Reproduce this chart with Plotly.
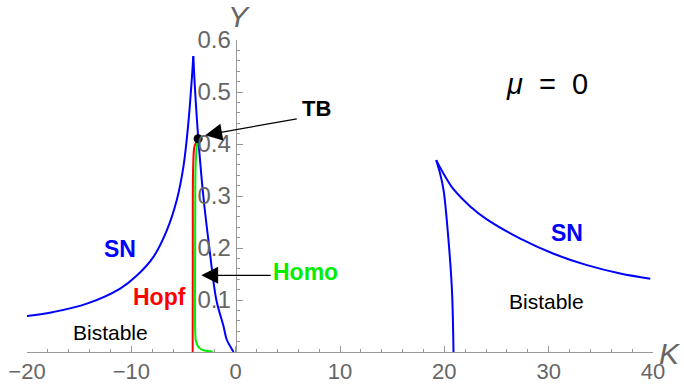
import plotly.graph_objects as go

# ---- data ----
sn_left_up_K = [-20, -17.45, -14.26, -11.07, -9.47, -7.88, -6.6, -5.65, -5.01, -4.54, -4.21, -4.06]
sn_left_up_Y = [0.069, 0.077, 0.093, 0.122, 0.147, 0.183, 0.234, 0.292, 0.356, 0.439, 0.523, 0.569]

sn_left_down_K = [-4.06, -3.89, -3.58, -3.1, -2.52, -1.85, -1.17, -0.86, -0.5, -0.2]
sn_left_down_Y = [0.569, 0.503, 0.41, 0.3, 0.2, 0.1, 0.05, 0.024, 0.01, 0.0]

sn_right_vert_K = [19.22, 19.6, 19.93, 20.4, 20.73, 20.88]
sn_right_vert_Y = [0.369, 0.343, 0.311, 0.215, 0.119, 0.0]

sn_right_tail_K = [19.22, 19.93, 20.88, 22.48, 24.08, 27.28, 30.47, 33.67, 36.86, 39.74]
sn_right_tail_Y = [0.369, 0.343, 0.313, 0.280, 0.255, 0.218, 0.189, 0.167, 0.151, 0.141]

hopf_K = [-4.12, -4.11, -4.08, -3.95, -3.6]
hopf_Y = [0.0, 0.2, 0.35, 0.395, 0.41]

homo_K = [-3.6, -3.75, -3.85, -3.88, -3.89, -3.88, -3.8, -3.5, -3.0, -2.2]
homo_Y = [0.41, 0.39, 0.35, 0.25, 0.1, 0.04, 0.02, 0.008, 0.003, 0.001]

tb_K = [-3.6]
tb_Y = [0.41]

x_ticks = [-20, -10, 0, 10, 20, 30, 40]
x_tick_text = ["\u221220", "\u221210", "0", "10", "20", "30", "40"]
y_ticks = [0.1, 0.2, 0.3, 0.4, 0.5, 0.6]
y_tick_text = ["0.1", "0.2", "0.3", "0.4", "0.5", "0.6"]

BLUE = "#0000ff"
RED = "#ff0000"
GREEN = "#00ee00"
FONT = "Liberation Sans, Arial, sans-serif"
AXC = "#999999"
LBLC = "#666666"

fig = go.Figure()
for kx, ky, sm in [(sn_left_up_K, sn_left_up_Y, 1.0), (sn_left_down_K, sn_left_down_Y, 1.0),
                   (sn_right_vert_K, sn_right_vert_Y, 1.0), (sn_right_tail_K, sn_right_tail_Y, 1.0)]:
    fig.add_trace(go.Scatter(x=kx, y=ky, mode="lines",
                             line=dict(color=BLUE, width=2, shape="spline", smoothing=sm),
                             hoverinfo="skip", cliponaxis=False))
fig.add_trace(go.Scatter(x=hopf_K, y=hopf_Y, mode="lines",
                         line=dict(color=RED, width=2, shape="spline", smoothing=0.8), cliponaxis=False))
fig.add_trace(go.Scatter(x=homo_K, y=homo_Y, mode="lines",
                         line=dict(color=GREEN, width=2, shape="spline", smoothing=0.8), cliponaxis=False))
fig.add_trace(go.Scatter(x=tb_K, y=tb_Y, mode="markers",
                         marker=dict(color="black", size=9), cliponaxis=False))

ann = []
def txt(x, y, s, color, size, bold=False, italic=False):
    t = s
    if bold:
        t = "<b>" + t + "</b>"
    if italic:
        t = "<i>" + t + "</i>"
    ann.append(dict(x=x, y=y, xref="x", yref="y", text=t, showarrow=False,
                    font=dict(family=FONT, size=size, color=color),
                    xanchor="center", yanchor="middle"))

txt(-11.07, 0.199, "SN", BLUE, 23, bold=True)
txt(-7.3, 0.106, "Hopf", RED, 23, bold=True)
txt(-12.0, 0.038, "Bistable", "black", 21)
txt(6.7, 0.153, "Homo", GREEN, 23, bold=True)
txt(7.7, 0.469, "TB", "black", 22, bold=True)
txt(31.75, 0.228, "SN", BLUE, 23, bold=True)
txt(29.8, 0.0975, "Bistable", "black", 21)
ann.append(dict(x=29.8, y=0.516, xref="x", yref="y",
                text="<i>\u03bc</i>\u00a0\u00a0=\u00a0\u00a00", showarrow=False,
                xanchor="center", yanchor="middle",
                font=dict(family=FONT, size=29, color="black")))
ann.append(dict(x=(670 - 27) / 626, y=-(353 - 352) / 312, xref="paper", yref="paper",
                text="<i>K</i>", showarrow=False, xanchor="center", yanchor="middle",
                font=dict(family=FONT, size=30, color=LBLC)))
ann.append(dict(x=(239 - 27) / 626, y=(352 - 16) / 312, xref="paper", yref="paper",
                text="<i>Y</i>", showarrow=False, xanchor="center", yanchor="middle",
                font=dict(family=FONT, size=30, color=LBLC)))

# arrows
ann.append(dict(x=-2.92, y=0.417, ax=6.0, ay=0.449, xref="x", yref="y", axref="x", ayref="y",
                text="", showarrow=True, arrowhead=2, arrowsize=2.6, arrowwidth=1.3, arrowcolor="black"))
ann.append(dict(x=-3.3, y=0.1475, ax=3.5, ay=0.1475, xref="x", yref="y", axref="x", ayref="y",
                text="", showarrow=True, arrowhead=2, arrowsize=2.6, arrowwidth=1.3, arrowcolor="black"))

fig.update_layout(
    width=684, height=385,
    margin=dict(l=27, r=31, t=40, b=33, autoexpand=False),
    paper_bgcolor="white", plot_bgcolor="white",
    showlegend=False,
    annotations=ann,
    xaxis=dict(range=[-20, 40], showgrid=False, zeroline=False, showline=True, automargin=False,
               linecolor=AXC, linewidth=1, ticks="inside", ticklen=6, tickcolor=AXC,
               tickvals=x_ticks, ticktext=x_tick_text, ticklabelstandoff=0,
               tickfont=dict(family=FONT, size=22, color=LBLC),
               minor=dict(dtick=2, tick0=0, ticks="inside", ticklen=3.5, tickcolor=AXC)),
    yaxis=dict(range=[0, 0.6], showgrid=False, zeroline=False, showline=True, automargin=False,
               linecolor=AXC, linewidth=1, ticks="inside", ticklen=6, tickcolor=AXC,
               anchor="free", position=1/3,
               tickvals=y_ticks, ticktext=y_tick_text,
               tickfont=dict(family=FONT, size=24, color=LBLC),
               minor=dict(dtick=0.02, tick0=0, ticks="inside", ticklen=3.5, tickcolor=AXC)),
)

fig.write_html("out.html")
